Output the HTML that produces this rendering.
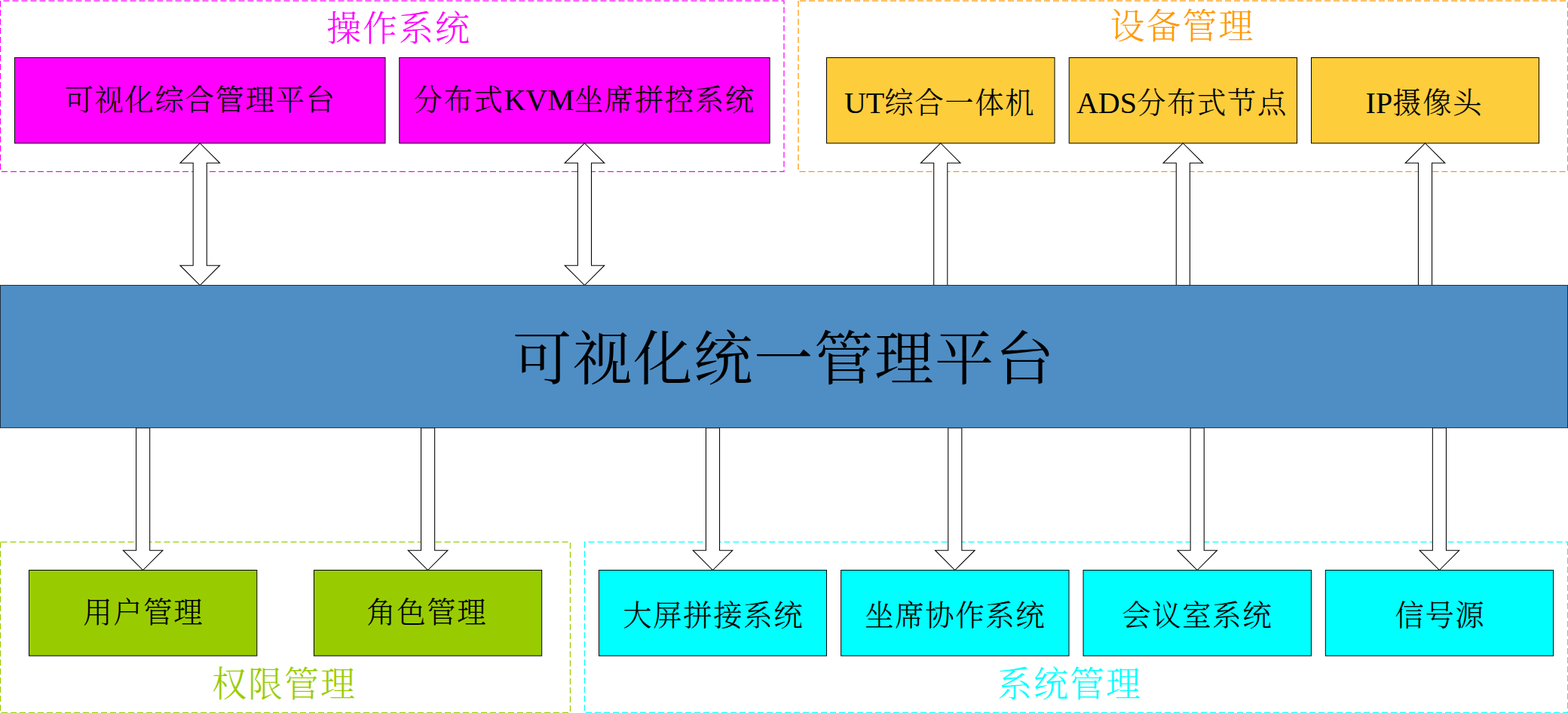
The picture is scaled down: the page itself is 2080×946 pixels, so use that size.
<!DOCTYPE html>
<html lang="zh-CN">
<head>
<meta charset="utf-8">
<title>可视化统一管理平台</title>
<style>
html,body{margin:0;padding:0;background:#fff;}
body{width:2080px;height:946px;overflow:hidden;}
svg{display:block;font-family:"Liberation Serif", "Noto Serif CJK SC", serif;}
.grp{fill:none;stroke-width:1.25;stroke-dasharray:8 4;}
.box{stroke:#000;stroke-width:1;}
.m{fill:#ff00ff}.o{fill:#fecd3c}.g{fill:#99cc00}.c{fill:#00ffff}.bar{fill:#4e8ec5;stroke:#1f3040;stroke-width:1}
.arr{fill:#fff;stroke:#000;stroke-width:1.05;stroke-linejoin:miter;}
.t{font-size:38.4px;letter-spacing:1.6px;font-weight:300;fill:#000;stroke:#000;stroke-width:0.12;}
.t .l{font-size:40px;letter-spacing:0;font-weight:400;stroke:none;}
.h{font-size:46.08px;letter-spacing:1.92px;font-weight:300;}
.ct{font-size:78.4px;letter-spacing:1.6px;font-weight:400;fill:#000;}
</style>
</head>
<body>
<svg width="2080" height="946" viewBox="0 0 2080 946">
<rect x="0" y="0" width="2080" height="946" fill="#fff"/>
<g id="groups">
<path class="grp" stroke="#ff00ff" d="M0.5,1V227.5H1040V1Z"/>
<text class="h" x="432.9" y="54" fill="#ff00ff">操作系统</text>
<path class="grp" stroke="#ff9900" d="M1059,1V227.5H2079.5V1Z"/>
<text class="h" x="1472.4" y="50.5" fill="#ff9900">设备管理</text>
<path class="grp" stroke="#99cc00" d="M0.5,719V945.5H756.5V719Z"/>
<text class="h" x="281.1" y="923.5" fill="#99cc00">权限管理</text>
<path class="grp" stroke="#00ffff" d="M775.5,719V945.5H2079.5V719Z"/>
<text class="h" x="1322.8" y="923.5" fill="#00ffff">系统管理</text>
</g>
<g id="boxes">
<rect class="box m" x="19.5" y="76.5" width="491.5" height="113.5"/>
<text class="t" x="85.5" y="146">可视化综合管理平台</text>
<rect class="box m" x="529.8" y="76.5" width="491.3" height="113.5"/>
<text class="t" x="548.5" y="146"><tspan class="z">分布式</tspan><tspan class="l">KVM</tspan><tspan class="z">坐席拼控系统</tspan></text>
<rect class="box o" x="1096.5" y="76.5" width="302.5" height="113.5"/>
<text class="t" x="1119.9" y="150"><tspan class="l">UT</tspan><tspan class="z">综合一体机</tspan></text>
<rect class="box o" x="1418.2" y="76.5" width="302.3" height="113.5"/>
<text class="t" x="1427.9" y="150"><tspan class="l">ADS</tspan><tspan class="z">分布式节点</tspan></text>
<rect class="box o" x="1739.5" y="76.5" width="302" height="113.5"/>
<text class="t" x="1811.59" y="150"><tspan class="l">IP</tspan><tspan class="z">摄像头</tspan></text>
<rect class="box g" x="38.5" y="756.5" width="302.3" height="113.6"/>
<text class="t" x="110.18" y="826">用户管理</text>
<rect class="box g" x="416.5" y="756.5" width="302.2" height="113.6"/>
<text class="t" x="486.18" y="826">角色管理</text>
<rect class="box c" x="794.5" y="756.5" width="302" height="113.6"/>
<text class="t" x="826.3" y="830">大屏拼接系统</text>
<rect class="box c" x="1115.6" y="756.5" width="302.4" height="113.6"/>
<text class="t" x="1147.3" y="830">坐席协作系统</text>
<rect class="box c" x="1437" y="756.5" width="302.4" height="113.6"/>
<text class="t" x="1488.3" y="830">会议室系统</text>
<rect class="box c" x="1758.3" y="756.5" width="302.2" height="113.6"/>
<text class="t" x="1850.4" y="830">信号源</text>
</g>
<g id="arrows">
<path class="arr" d="M265.25,190L291.55,216.3H274.3V352.2H291.55L265.25,378.5L238.95,352.2H256.2V216.3H238.95Z"/>
<path class="arr" d="M775.45,190L801.75,216.3H784.5V352.2H801.75L775.45,378.5L749.15,352.2H766.4V216.3H749.15Z"/>
<path class="arr" d="M1247.75,190L1274.05,216.3H1256.8V378.5H1238.7V216.3H1221.45Z"/>
<path class="arr" d="M1569.35,190L1595.65,216.3H1578.4V378.5H1560.3V216.3H1543.05Z"/>
<path class="arr" d="M1890.5,190L1916.8,216.3H1899.55V378.5H1881.45V216.3H1864.2Z"/>
<path class="arr" d="M189.65,756.5L215.95,730.2H198.7V567.6H180.6V730.2H163.35Z"/>
<path class="arr" d="M567.6,756.5L593.9,730.2H576.65V567.6H558.55V730.2H541.3Z"/>
<path class="arr" d="M945.5,756.5L971.8,730.2H954.55V567.6H936.45V730.2H919.2Z"/>
<path class="arr" d="M1266.8,756.5L1293.1,730.2H1275.85V567.6H1257.75V730.2H1240.5Z"/>
<path class="arr" d="M1588.2,756.5L1614.5,730.2H1597.25V567.6H1579.15V730.2H1561.9Z"/>
<path class="arr" d="M1909.4,756.5L1935.7,730.2H1918.45V567.6H1900.35V730.2H1883.1Z"/>
</g>
<g id="platform">
<rect class="bar" x="0.5" y="378.5" width="2079" height="189.1"/>
<text class="ct" x="680.1" y="504">可视化统一管理平台</text>
</g>
</svg>
</body>
</html>
